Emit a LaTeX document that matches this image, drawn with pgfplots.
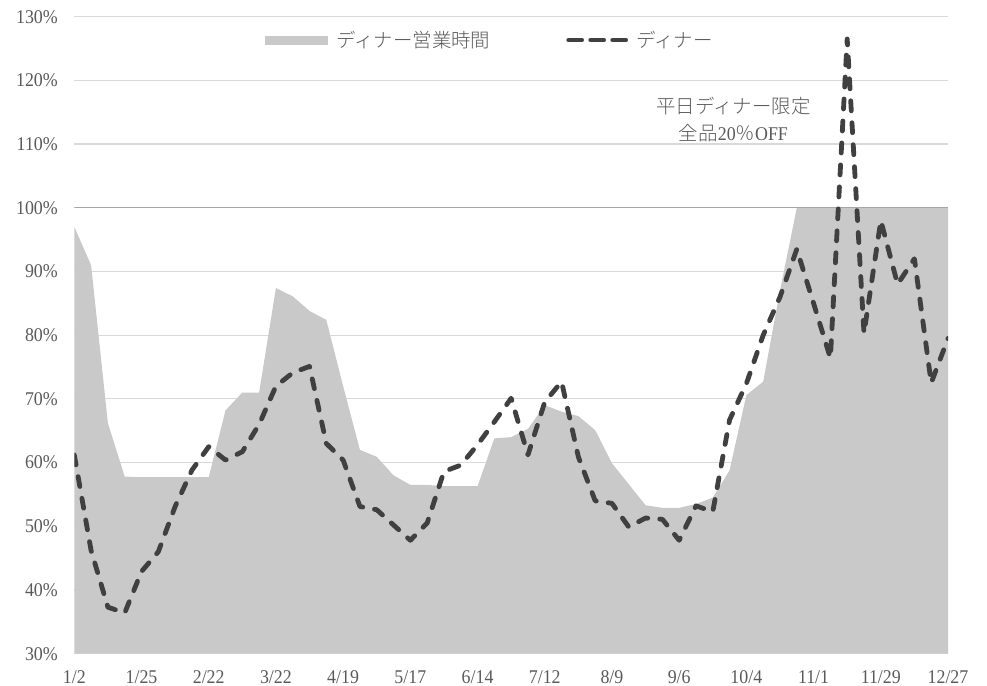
\documentclass[border=0pt]{standalone}
\usepackage{fontspec}
\setmainfont{Liberation Serif}[FakeStretch=0.92]
\IfFontExistsTF{Noto Sans CJK JP Light}{\newfontfamily\cjk{Noto Sans CJK JP Light}}{\newfontfamily\cjk{Noto Sans CJK JP}}
\usepackage{pgfplots}
\pgfplotsset{compat=1.18}
\definecolor{areagray}{HTML}{C9C9C9}
\definecolor{linegray}{HTML}{404040}
\definecolor{gridgray}{HTML}{D9D9D9}
\definecolor{textgray}{HTML}{595959}
\definecolor{hundgray}{HTML}{A6A6A6}
\pgfplotstableread{
i area line
0 97 61.2
1 91 46.2
2 66.2 37.3
3 57.8 36.4
4 57.7 42.9
5 57.7 46.0
6 57.7 53.1
7 57.7 58.8
8 57.7 62.5
9 68.2 60.4
10 71.0 61.7
11 71.0 66.0
12 87.4 72.0
13 86.1 74.1
14 83.8 75.1
15 82.4 63.0
16 72.0 60.4
17 62.0 53.1
18 60.9 52.6
19 58.0 50.2
20 56.5 47.8
21 56.5 50.5
22 56.3 58.6
23 56.3 59.6
24 56.3 62.8
25 63.8 66.4
26 64.0 70.1
27 65.3 61.2
28 69.0 69.5
29 68.0 72.7
30 67.3 60.9
31 65.1 54.0
32 59.9 53.6
33 56.6 49.9
34 53.3 51.3
35 52.9 51.1
36 52.9 47.8
37 53.5 53.2
38 54.5 52.3
39 58.8 66.7
40 70.6 72.4
41 72.7 80.0
42 87.0 86.0
43 100 93.5
44 100 85.0
45 100 76.4
46 100 126.5
47 100 80.3
48 100 98.0
49 100 88.0
50 100 92.0
51 100 72.5
52 100 79.5
}\datatable
\begin{document}
\begin{tikzpicture}
\begin{axis}[
  scale only axis,
  width=873.7bp, height=637bp,
  xmin=0, xmax=52, ymin=30, ymax=130,
  axis x line*=bottom, axis y line*=left,
  x axis line style={draw=none},
  y axis line style={draw=none},
  tick style={draw=none},
  major tick length=0pt,
  ytick={30,40,...,130},
  yticklabels={30\%,40\%,50\%,60\%,70\%,80\%,90\%,100\%,110\%,120\%,130\%},
  xtick={0,4,...,52},
  xticklabels={1/2,1/25,2/22,3/22,4/19,5/17,6/14,7/12,8/9,9/6,10/4,11/1,11/29,12/27},
  ymajorgrids,
  grid style={gridgray, line width=1.2bp},
  tick label style={font=\fontsize{19.5}{21}\selectfont, text=textgray},
  yticklabel style={anchor=east, xshift=-13bp},
  xticklabel style={anchor=north, yshift=-13bp},
  legend style={draw=none, fill=none, at={(0.2183,0.9634)}, anchor=west,
    font=\cjk\fontsize{19.5}{20}\selectfont, text=textgray, inner sep=0pt,
    /tikz/every odd column/.append style={column sep=6bp},
    /tikz/every even column/.append style={column sep=74bp}},
  legend columns=2,
  legend cell align=left,
  clip=true,
]
\addplot[fill=areagray, draw=none,
  legend image code/.code={\fill[areagray] (0bp,-4.5bp) rectangle (63bp,4.5bp);}]
  table[x=i, y=area] {\datatable} \closedcycle;
\addlegendentry{ディナー営業時間}
\draw[hundgray, line width=1.2bp] (axis cs:0,100) -- (axis cs:52,100);
\addplot[linegray, line width=4.8bp, dash pattern=on 10bp off 12bp, line cap=round, line join=round,
  legend image code/.code={\draw[linegray, line width=4.8bp, line cap=round, dash pattern=on 13bp off 9bp] (2.4bp,0) -- (59.4bp,0);}]
  table[x=i, y=line] {\datatable};
\addlegendentry{ディナー}
\node[align=center, text=textgray, font=\fontsize{19.5}{27}\selectfont] at (axis cs:39.23,113.9)
  {{\cjk 平日ディナー限定}\\{\cjk 全品}20{\cjk ％}OFF};
\end{axis}
\pgfresetboundingbox
\path[use as bounding box] ([shift={(-74.3bp,-32.3bp)}]current axis.south west) rectangle ([shift={(39bp,16.7bp)}]current axis.north east);
\end{tikzpicture}
\end{document}
